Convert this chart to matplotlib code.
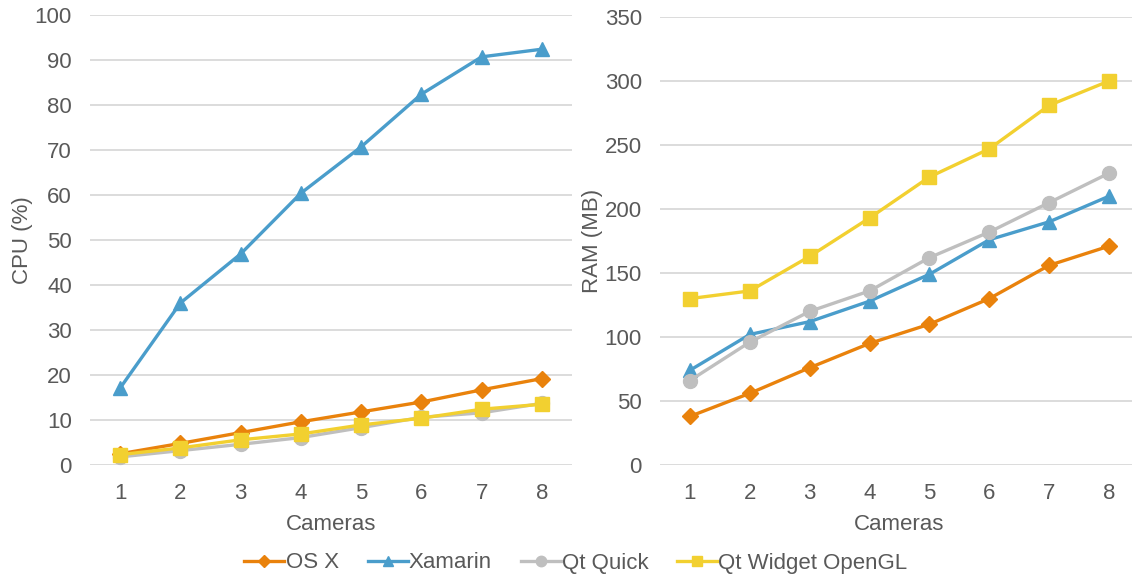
import matplotlib
matplotlib.use("Agg")
import matplotlib.pyplot as plt

plt.rcParams['font.family'] = ['Liberation Sans', 'DejaVu Sans']

cameras = [1, 2, 3, 4, 5, 6, 7, 8]
series_names = ["OS X", "Xamarin", "Qt Quick", "Qt Widget OpenGL"]

cpu_osx = [2.5, 4.8, 7.2, 9.6, 11.8, 14.0, 16.7, 19.2]
cpu_xamarin = [17.1, 36.0, 46.9, 60.4, 70.7, 82.4, 90.7, 92.4]
cpu_qtquick = [1.8, 3.2, 4.6, 6.1, 8.3, 10.6, 11.6, 13.7]
cpu_qtwidget = [2.3, 3.8, 5.6, 6.9, 8.9, 10.4, 12.4, 13.5]

ram_osx = [38, 56, 76, 95, 110, 130, 156, 171]
ram_xamarin = [74, 102, 112, 128, 149, 176, 190, 210]
ram_qtquick = [66, 96, 120, 136, 162, 182, 205, 228]
ram_qtwidget = [130, 136, 163, 193, 225, 247, 281, 300]

colors = ['#E9820C', '#4A9DCB', '#BFBFBF', '#F2D030']
markers = ['D', '^', 'o', 's']
msizes = [8, 10, 10, 9.5]

W, H = 1132, 579
fig = plt.figure(figsize=(W / 100, H / 100), dpi=100)

def px_axes(x0, x1, ytop, ybot):
    return fig.add_axes([x0 / W, (H - ybot) / H, (x1 - x0) / W, (ybot - ytop) / H])

ax1 = px_axes(90, 572, 15, 465)
ax2 = px_axes(660, 1139, 17, 465)

text_color = '#595959'
grid_color = '#D9D9D9'
FS = 16

def style(ax, ylim, yticks, ylabel):
    ax.set_xlim(0.5, 8.5)
    ax.set_ylim(*ylim)
    ax.set_yticks(yticks)
    ax.set_xticks(cameras)
    for s in ax.spines.values():
        s.set_visible(False)
    ax.yaxis.grid(True, color=grid_color, linewidth=1.3)
    ax.set_axisbelow(True)
    ax.tick_params(length=0, labelsize=FS, labelcolor=text_color)
    ax.tick_params(axis='x', pad=13)
    ax.tick_params(axis='y', pad=13)
    ax.set_xlabel("Cameras", fontsize=FS, color=text_color, labelpad=7)
    ax.set_ylabel(ylabel, fontsize=FS, color=text_color, labelpad=1)

cpu_data = [cpu_osx, cpu_xamarin, cpu_qtquick, cpu_qtwidget]
ram_data = [ram_osx, ram_xamarin, ram_qtquick, ram_qtwidget]

handles = []
for i in range(4):
    h, = ax1.plot(cameras, cpu_data[i], color=colors[i], marker=markers[i],
                  markersize=msizes[i], linewidth=2.4, label=series_names[i],
                  clip_on=False)
    handles.append(h)
    ax2.plot(cameras, ram_data[i], color=colors[i], marker=markers[i],
             markersize=msizes[i], linewidth=2.4, clip_on=False)

style(ax1, (0, 100), range(0, 101, 10), "CPU (%)")
style(ax2, (0, 350), range(0, 351, 50), "RAM (MB)")

fig.legend(handles=handles, loc='center', bbox_to_anchor=(576 / W, (H - 563) / H),
           ncol=4, frameon=False, fontsize=FS, labelcolor=text_color,
           handlelength=1.8, handletextpad=0.05, columnspacing=1.3,
           markerscale=0.75)

fig.savefig("out.png", dpi=100)
